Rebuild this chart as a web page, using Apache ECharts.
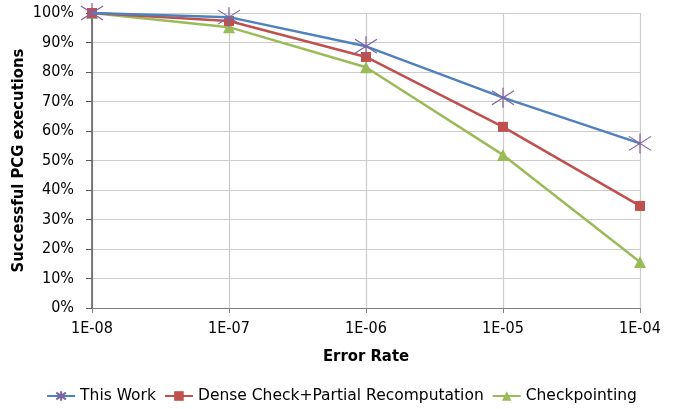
<!DOCTYPE html>
<html>
<head>
<meta charset="utf-8">
<script src="https://cdn.jsdelivr.net/npm/echarts@6/dist/echarts.min.js"></script>
<style>
  html, body { margin: 0; padding: 0; background: #fff; }
  #main { width: 683px; height: 409px; }
</style>
</head>
<body>
<div id="main"></div>
<script>
// 数据
var errorRates = ['1E-08', '1E-07', '1E-06', '1E-05', '1E-04'];
var thisWork = [100, 98.6, 88.7, 71.3, 55.8];
var denseCheck = [100, 97.3, 85.1, 61.4, 34.6];
var checkpointing = [100, 95.2, 81.6, 51.9, 15.6];

var fontName = 'DejaVu Sans Condensed';
var starPath = 'path://M0,-10L0,10M-11,-7L11,7M-11,7L11,-7';

var myChart = echarts.init(document.getElementById('main'));

var option = {
    animation: false,
    textStyle: { fontFamily: fontName },
    grid: { left: 92, right: 43, top: 13, bottom: 101, outerBoundsMode: 'none' },
    legend: {
        bottom: 0,
        left: 'center',
        itemGap: 8,
        itemWidth: 28,
        itemHeight: 12,
        textStyle: { fontFamily: 'DejaVu Sans', fontSize: 15.5, color: '#000' },
        data: ['This Work', 'Dense Check+Partial Recomputation', 'Checkpointing']
    },
    xAxis: {
        type: 'category',
        data: errorRates,
        boundaryGap: false,
        name: 'Error Rate',
        nameLocation: 'middle',
        nameGap: 40,
        nameMoveOverlap: false,
        nameTextStyle: { fontFamily: fontName, fontWeight: 'bold', fontSize: 16.5, color: '#000' },
        axisLine: { lineStyle: { color: '#808080', width: 1 } },
        axisTick: { show: true, alignWithLabel: true, length: 5, lineStyle: { color: '#808080' } },
        axisLabel: { fontFamily: fontName, fontSize: 16, color: '#000', margin: 13 },
        splitLine: { show: true, lineStyle: { color: '#cccccc', width: 1.2 } }
    },
    yAxis: {
        type: 'value',
        min: 0,
        max: 100,
        interval: 10,
        name: 'Successful PCG executions',
        nameLocation: 'middle',
        nameGap: 65,
        nameMoveOverlap: false,
        nameTextStyle: { fontFamily: fontName, fontWeight: 'bold', fontSize: 16.5, color: '#000' },
        axisLine: { show: true, lineStyle: { color: '#595959', width: 1.5 } },
        axisTick: { show: true, length: 6, lineStyle: { color: '#595959' } },
        axisLabel: { fontFamily: fontName, fontSize: 16, color: '#000', margin: 18, formatter: '{value}%' },
        splitLine: { show: true, lineStyle: { color: '#cccccc', width: 1.2 } }
    },
    series: [
        {
            name: 'This Work',
            type: 'line',
            data: thisWork,
            symbol: starPath,
            symbolSize: [22, 20],
            z: 4,
            lineStyle: { color: '#4f81bd', width: 2.5 },
            itemStyle: { color: '#8064a2', borderColor: '#8064a2', borderWidth: 1.2 }
        },
        {
            name: 'Dense Check+Partial Recomputation',
            type: 'line',
            data: denseCheck,
            symbol: 'rect',
            symbolSize: 10,
            z: 3,
            lineStyle: { color: '#c0504d', width: 2.5 },
            itemStyle: { color: '#c0504d', borderWidth: 0 }
        },
        {
            name: 'Checkpointing',
            type: 'line',
            data: checkpointing,
            symbol: 'triangle',
            symbolSize: 12,
            z: 2,
            lineStyle: { color: '#9bbb59', width: 2.5 },
            itemStyle: { color: '#9bbb59', borderWidth: 0 }
        }
    ]
};

myChart.setOption(option);
</script>
</body>
</html>
